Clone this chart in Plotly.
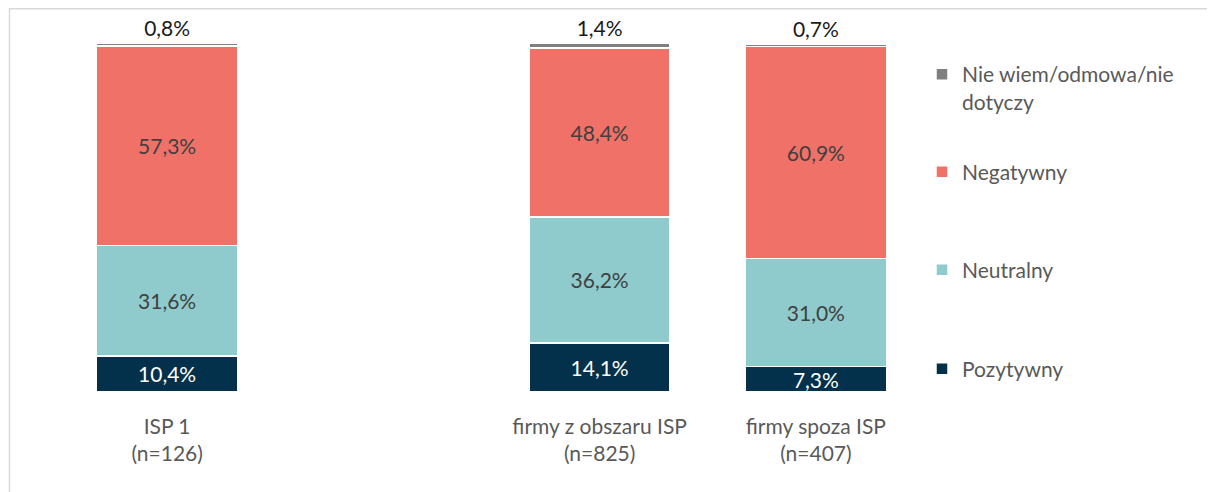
import plotly.graph_objects as go

categories = ["ISP 1<br>(n=126)", " ", "firmy z obszaru ISP<br>(n=825)", "firmy spoza ISP<br>(n=407)"]
pozytywny = [10.4, None, 14.1, 7.3]
neutralny = [31.6, None, 36.2, 31.0]
negatywny = [57.3, None, 48.4, 60.9]
nie_wiem = [0.8, None, 1.4, 0.7]

series = [
    ("Pozytywny", pozytywny, "#03304A", "#FFFFFF"),
    ("Neutralny", neutralny, "#8FCBCC", "#404040"),
    ("Negatywny", negatywny, "#F07167", "#404040"),
    ("Nie wiem/odmowa/nie<br>dotyczy", nie_wiem, "#808080", "#1A1A1A"),
]

FONT = "Lato"
FS = 21

# page has an 8px body margin; figure sized to fit the window
W, H = 1207, 484
ml, mt = 51, 35
pw, ph = 865, 349
mr = W - ml - pw
mb = H - mt - ph

def fmt(v):
    return "" if v is None else f"{v:.1f}%".replace(".", ",")

def ypaper(py):
    return 1 - (py - 8 - mt) / ph

legend_centers = [369, 270, 172, 88]  # page-pixel y of legend item centres
legend_names = ["legend4", "legend3", "legend2", "legend"]

fig = go.Figure()
for i, (name, vals, color, tcolor) in enumerate(series):
    last = i == len(series) - 1
    fig.add_trace(go.Bar(
        x=categories, y=vals, name=name,
        marker=dict(color=color, line=dict(color="white", width=1.5)),
        text=[fmt(v) for v in vals],
        textposition="outside" if last else "inside",
        insidetextanchor="middle",
        constraintext="none",
        textangle=0,
        textfont=dict(family=FONT, size=FS, color=tcolor),
        cliponaxis=False,
        legend=legend_names[i],
        hoverinfo="skip",
    ))

legend_x = (954 - 40 - ml) / pw
legends = {}
for i, ln in enumerate(legend_names):
    legends[ln] = dict(
        x=legend_x, xanchor="left", y=ypaper(legend_centers[i]), yanchor="middle",
        font=dict(family=FONT, size=FS, color="#595959"),
        itemwidth=30, bgcolor="rgba(0,0,0,0)",
        valign="top" if i == 3 else "middle",
    )

fig.update_layout(
    width=W, height=H,
    barmode="stack", bargap=0.347,
    margin=dict(l=ml, r=mr, t=mt, b=mb),
    plot_bgcolor="white", paper_bgcolor="white",
    font=dict(family=FONT, size=FS, color="#595959"),
    xaxis=dict(type="category", categoryorder="array", categoryarray=categories,
               showgrid=False, showline=False, zeroline=False, ticks="",
               ticklabelstandoff=20,
               tickfont=dict(family=FONT, size=FS, color="#595959")),
    yaxis=dict(range=[0, 100.2], visible=False),
    showlegend=True,
    shapes=[dict(type="rect", xref="paper", yref="paper",
                 x0=(1.5 - ml) / pw, x1=(W + 5 - ml) / pw,
                 y0=-(mb + 20) / ph,
                 y1=1 + (mt - 0.75) / ph,
                 line=dict(color="#D9D9D9", width=1.5), fillcolor="rgba(0,0,0,0)", layer="below")],
    **legends,
)
fig.write_html("out.html")
